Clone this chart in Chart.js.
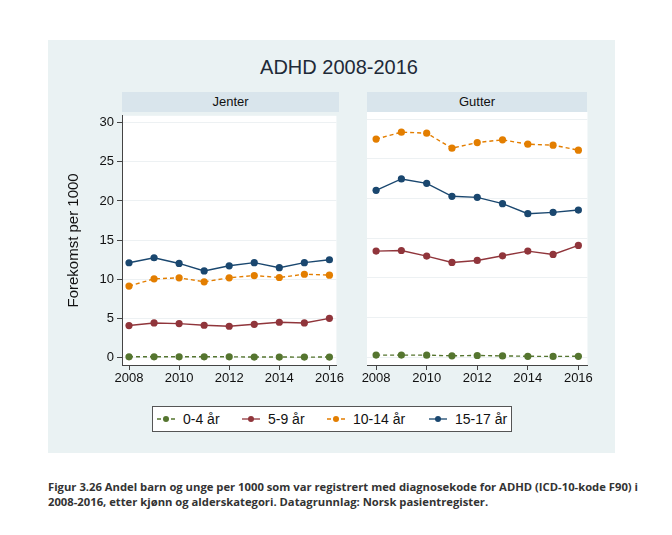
<!DOCTYPE html>
<html>
<head>
<meta charset="utf-8">
<script src="https://cdn.jsdelivr.net/npm/chart.js@4/dist/chart.umd.min.js"></script>
<style>
  html, body { margin:0; padding:0; background:#ffffff; }
  body { width:672px; height:535px; position:relative; overflow:hidden; font-family:"Liberation Sans", Arial, sans-serif; }
  #bg { position:absolute; left:48px; top:40px; width:567px; height:413px; background:#eaf2f3; }
  #title { position:absolute; left:48px; top:56px; width:582px; text-align:center; font-size:20px; color:#1e2a38; }
  .strip { position:absolute; top:92px; height:20px; background:#d9e5ec; text-align:center; font-size:13px; line-height:20px; color:#111; }
  canvas { position:absolute; }
  #legend { position:absolute; left:152px; top:406px; width:358px; height:24px; background:#fff; border:1px solid #555; font-size:14px; color:#111; }
  .li { position:absolute; top:0; height:24px; line-height:24px; white-space:nowrap; }
  .li svg { position:absolute; top:7px; left:0; }
  .li span { position:absolute; left:27px; top:0; }
  #caption { position:absolute; left:48px; top:479px; font-family:"Open Sans", sans-serif; font-weight:bold; font-size:11px; line-height:15px; color:#333; white-space:nowrap; transform-origin:0 0; }
</style>
</head>
<body>
<div id="bg"></div>
<div id="title">ADHD 2008-2016</div>
<div class="strip" style="left:122px;width:217px;">Jenter</div>
<div class="strip" style="left:367px;width:220px;">Gutter</div>
<canvas id="c1" width="285" height="290" style="left:60px;top:105px;"></canvas>
<canvas id="c2" width="234" height="290" style="left:360px;top:105px;"></canvas>
<div id="legend"></div>
<div id="caption">Figur 3.26 Andel barn og unge per 1000 som var registrert med diagnosekode for ADHD (ICD-10-kode F90) i<br>2008-2016, etter kjønn og alderskategori. Datagrunnlag: Norsk pasientregister.</div>
<script>
// ---- data ----
const years = [2008, 2009, 2010, 2011, 2012, 2013, 2014, 2015, 2016];
const seriesNames = ["0-4 år", "5-9 år", "10-14 år", "15-17 år"];
const yTicks = [0, 5, 10, 15, 20, 25, 30];
const xTicks = [2008, 2010, 2012, 2014, 2016];

// Jenter
const jenter_0_4   = [0.05, 0.05, 0.05, 0.05, 0.05, 0.02, 0.02, 0.01, 0.02];
const jenter_5_9   = [4.05, 4.38, 4.30, 4.09, 3.96, 4.21, 4.47, 4.38, 4.97];
const jenter_10_14 = [9.10, 10.03, 10.16, 9.65, 10.16, 10.45, 10.20, 10.62, 10.50];
const jenter_15_17 = [12.09, 12.73, 12.00, 11.04, 11.70, 12.10, 11.46, 12.10, 12.47];

// Gutter
const gutter_0_4   = [0.25, 0.25, 0.24, 0.16, 0.20, 0.15, 0.10, 0.08, 0.10];
const gutter_5_9   = [13.36, 13.44, 12.73, 11.93, 12.18, 12.77, 13.36, 12.94, 14.08];
const gutter_10_14 = [27.48, 28.36, 28.23, 26.34, 27.05, 27.39, 26.84, 26.72, 26.09];
const gutter_15_17 = [21.03, 22.46, 21.91, 20.27, 20.14, 19.34, 18.08, 18.25, 18.54];

const colors = ["#55752f", "#90353b", "#e37e00", "#1a476f"];
const dashed = [true, false, true, false];

function pts(vals) { return years.map((y, i) => ({ x: y, y: vals[i] })); }

function makeDatasets(arrs) {
  return arrs.map((vals, i) => ({
    label: seriesNames[i],
    data: pts(vals),
    borderColor: colors[i],
    backgroundColor: colors[i],
    borderWidth: 1.4,
    borderDash: dashed[i] ? [4, 3] : [],
    pointRadius: 3.6,
    pointBorderWidth: 0,
    pointBackgroundColor: colors[i],
    tension: 0
  }));
}

const whiteArea = {
  id: 'whiteArea',
  beforeDraw(chart) {
    const { ctx, chartArea: a } = chart;
    ctx.save();
    ctx.fillStyle = '#ffffff';
    ctx.fillRect(a.left, a.top, a.right - a.left, a.bottom - a.top);
    ctx.restore();
  }
};

function makeOptions(showY, xmin, xmax) {
  return {
    responsive: false,
    animation: false,
    layout: { padding: { top: 7, right: 0, left: 0, bottom: 0 } },
    plugins: { legend: { display: false }, tooltip: { enabled: false } },
    scales: {
      x: {
        type: 'linear',
        min: xmin, max: xmax,
        afterBuildTicks: (s) => { s.ticks = xTicks.map(v => ({ value: v })); },
        grid: { drawOnChartArea: false, drawTicks: true, tickLength: 5, tickColor: '#444' },
        border: { display: true, color: '#444', width: 1 },
        ticks: { color: '#111', font: { family: 'Liberation Sans', size: 13 }, padding: 1, maxRotation: 0, autoSkip: false, callback: v => String(v) },
        afterFit: (s) => { s.height = 30; }
      },
      y: {
        type: 'linear',
        min: -1.0, max: 30.9,
        afterBuildTicks: (s) => { s.ticks = yTicks.map(v => ({ value: v })); },
        grid: { color: '#edf1f3', lineWidth: 1, drawTicks: showY, tickLength: 5, tickColor: '#444' },
        border: { display: showY, color: '#444', width: 1 },
        ticks: { display: showY, color: '#111', font: { family: 'Liberation Sans', size: 13 }, padding: 3 },
        title: { display: showY, text: 'Forekomst per 1000', color: '#111', font: { family: 'Liberation Sans', size: 15 }, padding: { top: 5, bottom: 0 } },
        afterFit: (s) => { s.width = showY ? 62 : 7; }
      }
    }
  };
}

new Chart(document.getElementById('c1'), {
  type: 'line',
  data: { datasets: makeDatasets([jenter_0_4, jenter_5_9, jenter_10_14, jenter_15_17]) },
  options: makeOptions(true, 2007.72, 2016.28),
  plugins: [whiteArea]
});
new Chart(document.getElementById('c2'), {
  type: 'line',
  data: { datasets: makeDatasets([gutter_0_4, gutter_5_9, gutter_10_14, gutter_15_17]) },
  options: makeOptions(false, 2007.64, 2016.36),
  plugins: [whiteArea]
});

// legend (HTML)
const legendLefts = [3, 88, 173, 275];
const lg = document.getElementById('legend');
seriesNames.forEach((n, i) => {
  const d = document.createElement('div');
  d.className = 'li';
  d.style.left = legendLefts[i] + 'px';
  const dash = dashed[i] ? 'stroke-dasharray="4,3"' : '';
  d.innerHTML = `<svg width="20" height="10"><line x1="1" y1="5" x2="19" y2="5" stroke="${colors[i]}" stroke-width="1.3" ${dash}/><circle cx="10" cy="5" r="3" fill="${colors[i]}"/></svg><span>${n}</span>`;
  lg.appendChild(d);
});

// fit caption width to reference (~590px)
const cap = document.getElementById('caption');
const w = cap.getBoundingClientRect().width;
if (w > 0) cap.style.transform = 'scaleX(' + (590 / w) + ')';
</script>
</body>
</html>
